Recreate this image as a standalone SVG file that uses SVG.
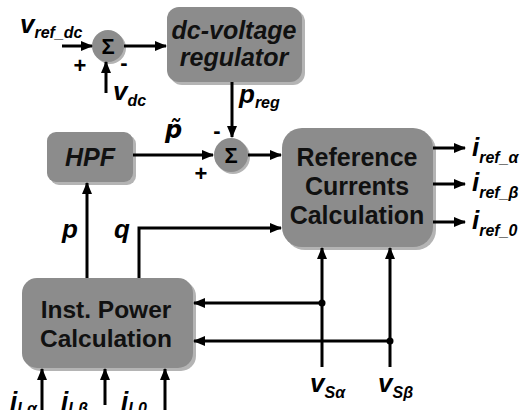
<svg xmlns="http://www.w3.org/2000/svg" width="528" height="410" viewBox="0 0 528 410">
<defs>
<marker id="ah" viewBox="0 0 12 10" refX="11" refY="5" markerWidth="12" markerHeight="10" markerUnits="userSpaceOnUse" orient="auto">
<path d="M0,0 L12,5 L0,10 Z" fill="#000"/>
</marker>
<style>
.box{fill:#8c8c8c;}
.sh{fill:#b4b4b4;}
.ln{stroke:#000;stroke-width:3;fill:none;}
.arr{stroke:#000;stroke-width:3;fill:none;marker-end:url(#ah);}
.t{font-family:"Liberation Sans",Arial,sans-serif;font-weight:bold;font-size:25px;fill:#111;text-anchor:middle;}
.ti{font-family:"Liberation Sans",Arial,sans-serif;font-weight:bold;font-style:italic;font-size:25px;fill:#111;text-anchor:middle;}
.v{font-family:"Liberation Sans",Arial,sans-serif;font-weight:bold;font-style:italic;font-size:26px;fill:#000;}
.s{font-size:16px;}
.sg{font-family:"Liberation Sans",Arial,sans-serif;font-weight:bold;font-size:22px;fill:#000;text-anchor:middle;}
</style>
</defs>

<g id="sum1">
<circle cx="110" cy="48" r="16" class="sh"/>
<circle cx="108" cy="46" r="16" class="box"/>
<text x="108" y="54" class="sg">Σ</text>
</g>

<g id="dcreg">
<rect x="170" y="10" width="135" height="75" rx="12" class="sh"/>
<rect x="167" y="7" width="135" height="75" rx="12" class="box"/>
<text x="234" y="39" class="ti">dc-voltage</text>
<text x="234" y="66" class="ti">regulator</text>
</g>

<g id="hpf">
<rect x="50" y="135" width="86" height="50" rx="9" class="sh"/>
<rect x="47" y="132" width="86" height="50" rx="9" class="box"/>
<text x="90" y="166" class="ti">HPF</text>
</g>

<g id="sum2">
<circle cx="233" cy="157" r="17" class="sh"/>
<circle cx="231" cy="155" r="17" class="box"/>
<text x="231" y="163" class="sg">Σ</text>
</g>

<g id="refcalc">
<rect x="285" y="131" width="151" height="119" rx="20" class="sh"/>
<rect x="282" y="128" width="151" height="119" rx="20" class="box"/>
<text x="357" y="166" class="t">Reference</text>
<text x="357" y="195" class="t">Currents</text>
<text x="357" y="224" class="t">Calculation</text>
</g>

<g id="ipc">
<rect x="25" y="281" width="171" height="90" rx="15" class="sh"/>
<rect x="22" y="278" width="171" height="90" rx="15" class="box"/>
<text x="106" y="318" class="t" style="font-size:24.5px">Inst. Power</text>
<text x="106" y="347" class="t" style="font-size:24.5px">Calculation</text>
</g>

<g id="connectors">
<line x1="62" y1="46" x2="92" y2="46" class="arr"/>
<line x1="106" y1="93" x2="106" y2="62" class="arr"/>
<line x1="124" y1="46" x2="166" y2="46" class="arr"/>
<line x1="232" y1="82" x2="232" y2="137" class="arr"/>
<line x1="133" y1="155" x2="213" y2="155" class="arr"/>
<line x1="248" y1="155" x2="281" y2="155" class="arr"/>
<line x1="433" y1="148" x2="465" y2="148" class="arr"/>
<line x1="433" y1="184" x2="465" y2="184" class="arr"/>
<line x1="433" y1="222" x2="465" y2="222" class="arr"/>
<line x1="87" y1="278" x2="87" y2="183" class="arr"/>
<polyline points="139,278 139,228 281,228" class="arr"/>
<line x1="322" y1="367" x2="322" y2="248" class="arr"/>
<line x1="390" y1="367" x2="390" y2="248" class="arr"/>
<line x1="322" y1="303" x2="194" y2="303" class="arr"/>
<line x1="390" y1="341" x2="194" y2="341" class="arr"/>
<circle cx="322" cy="303" r="3.5" fill="#000"/>
<circle cx="390" cy="341" r="3.5" fill="#000"/>
<line x1="42" y1="410" x2="42" y2="369" class="arr"/>
<line x1="105" y1="405" x2="105" y2="369" class="arr"/>
<line x1="165" y1="410" x2="165" y2="369" class="arr"/>
</g>

<g id="labels">
<text x="20" y="33" class="v">v<tspan class="s" dy="5">ref_dc</tspan></text>
<text x="80" y="73" class="sg">+</text>
<text x="124" y="70" class="sg">-</text>
<text x="113" y="100" class="v">v<tspan class="s" dy="6">dc</tspan></text>
<text x="239" y="103" class="v">p<tspan class="s" dy="5">reg</tspan></text>
<text x="217" y="138" class="sg">-</text>
<text x="165" y="138" class="v" style="font-family:'DejaVu Sans',sans-serif;font-size:24px">p&#x303;</text>
<text x="201" y="181" class="sg">+</text>
<text x="62" y="238" class="v">p</text>
<text x="114" y="238" class="v">q</text>
<text x="472" y="156" class="v">i<tspan class="s" dy="7">ref_α</tspan></text>
<text x="472" y="191" class="v">i<tspan class="s" dy="7">ref_β</tspan></text>
<text x="472" y="229" class="v">i<tspan class="s" dy="7">ref_0</tspan></text>
<text x="310" y="392" class="v">v<tspan class="s" dy="6">Sα</tspan></text>
<text x="378" y="392" class="v">v<tspan class="s" dy="6">Sβ</tspan></text>
<text x="10" y="410" class="v">i<tspan class="s" dy="4">Lα</tspan></text>
<text x="61" y="410" class="v">i<tspan class="s" dy="4">Lβ</tspan></text>
<text x="121" y="410" class="v">i<tspan class="s" dy="4">L0</tspan></text>
</g>
</svg>
